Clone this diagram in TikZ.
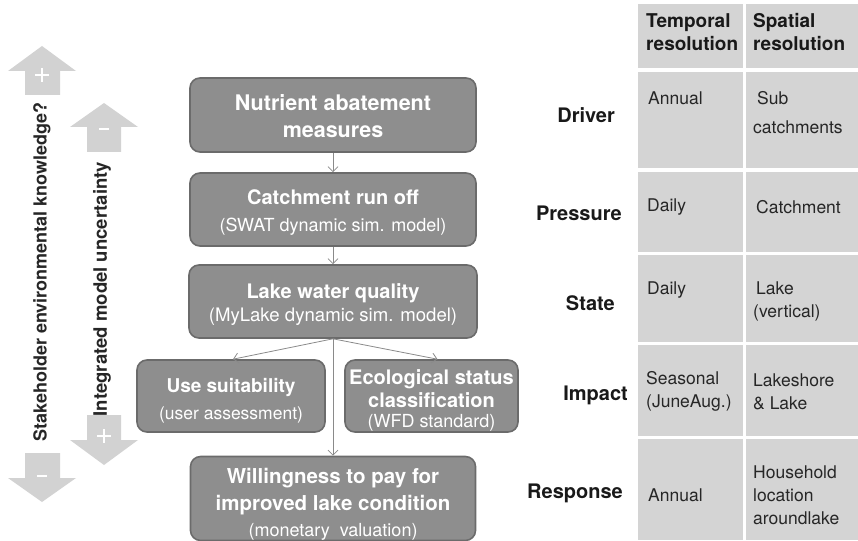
\documentclass[tikz,border=0pt]{standalone}
\usepackage{fontspec}
\setmainfont{TeX Gyre Heros}
\usetikzlibrary{arrows.meta,calc}
\definecolor{boxfill}{HTML}{8E8E8E}
\definecolor{boxline}{HTML}{6B6B6B}
\definecolor{connc}{HTML}{8A8A8A}
\definecolor{cellc}{HTML}{D4D4D4}
\definecolor{arrc}{HTML}{D2D2D2}
\definecolor{txt}{HTML}{262626}
\newcommand\myfs[2]{\fontsize{#1}{#2}\selectfont}
\newcommand\topstrut[1]{\rule{0pt}{#1pt}}
\begin{document}
\begin{tikzpicture}[x=1pt,y=-1pt,
  box/.style={draw=boxline, line width=1.6pt, fill=boxfill, rounded corners=10pt,
    text=white, align=center, inner sep=0pt},
  conn/.style={draw=connc, line width=0.8pt, -{Straight Barb[length=5pt,width=10pt]}},
  cell/.style={fill=cellc, draw=none},
  celltxt/.style={text=txt, font=\myfs{17.5}{23}, align=left, anchor=west, inner sep=0pt},
  dpsir/.style={text=black!90, font=\bfseries\myfs{20}{24}, anchor=east, inner sep=0pt},
  bigarrow/.style={fill=arrc, draw=none},
  sign/.style={draw=white, line width=2.2pt},
  sidetxt/.style={rotate=90, text=txt, inner sep=0pt}]
\useasboundingbox (0,0) rectangle (858,540);

% ---- table cells ----
\foreach \ya/\yb in {4/68, 72/168, 172/252, 255/342, 345/436, 439/540} {
  \fill[cellc] (638,\ya) rectangle (743,\yb);
  \fill[cellc] (746,\ya) rectangle (858,\yb);
}
\node[celltxt, font=\bfseries\myfs{19}{23}, text=black!90] (h1) at (646,32) {Temporal\\resolution};
\node[celltxt, font=\bfseries\myfs{19}{23}, text=black!90] (h2) at (753,32) {Spatial\\resolution};

\node[celltxt] (t1) at (648,98) {Annual};
\node[celltxt] (s1) at (753,113) {\hspace*{4pt}Sub\\[6pt]catchments};
\node[celltxt] (t2) at (647,207) {Daily};
\node[celltxt] (s2) at (756,207) {Catchment};
\node[celltxt] (t3) at (647,290) {Daily};
\node[celltxt] (s3) at (753,301.5) {\hspace*{3pt}Lake\\(vertical)};
\node[celltxt] (t4) at (646,391.5) {Seasonal\\(JuneAug.)};
\node[celltxt] (s4) at (753,391.5) {Lakeshore\\\& Lake};
\node[celltxt] (t5) at (648,495) {Annual};
\node[celltxt] (s5) at (753,495.5) {Household\\location\\aroundlake};

% ---- DPSIR labels ----
\node[dpsir] (d) at (615,115) {Driver};
\node[dpsir] (p) at (622,213) {Pressure};
\node[dpsir] (s) at (615,303) {State};
\node[dpsir] (i) at (628,395) {Impact};
\node[dpsir] (r) at (623,493) {Response};

% ---- boxes ----
\node[box, minimum width=286, minimum height=74, font=\bfseries\myfs{21.5}{27}] (nut) at (333,115)
  {\topstrut{19}Nutrient abatement\\measures};
\node[box, minimum width=286, minimum height=73, font=\myfs{18}{27}] (catch) at (333,209.5)
  {{\topstrut{21}\bfseries\myfs{20}{27}Catchment run off}\\(SWAT dynamic sim. model)};
\node[box, minimum width=288, minimum height=73, font=\myfs{18.6}{23}] (lake) at (333,301.5)
  {{\topstrut{21}\bfseries\myfs{20}{23}Lake water quality}\\(MyLake dynamic sim. model)};
\node[box, minimum width=188, minimum height=72, font=\myfs{17.5}{27}] (use) at (231,396)
  {{\topstrut{23}\bfseries\myfs{19}{27}Use suitability}\\(user assessment)};
\node[box, minimum width=173, minimum height=72, font=\myfs{18}{23}] (eco) at (431.5,396)
  {{\topstrut{23}\bfseries\myfs{20}{23}Ecological status}\\{\bfseries\myfs{20}{23}classification}\\[-3pt](WFD standard)};
\node[box, minimum width=285, minimum height=77, font=\myfs{18}{26.5}] (will) at (333,498.5)
  {{\topstrut{27}\bfseries\myfs{20.5}{26.5}Willingness to pay for}\\{\bfseries\myfs{20.5}{26.5}improved lake condition}\\(monetary\ \ valuation)};

% ---- connectors ----
\draw[conn] (nut) -- (catch);
\draw[conn] (catch) -- (lake);
\draw[conn] (lake.south) -- ([xshift=2pt]use.north);
\draw[conn] (lake.south) -- ([xshift=6pt]eco.north);
\draw[conn] (lake.south) -- (will.north);

% ---- side arrows ----
\fill[bigarrow] (42,46) -- (76,71) -- (60,71) -- (60,95) -- (25,95) -- (25,71) -- (8,71) -- cycle;
\draw[sign] (42,68) -- (42,82) (35,75) -- (49,75);
\fill[bigarrow] (104,103) -- (138,127) -- (121,127) -- (121,152) -- (87,152) -- (87,127) -- (70,127) -- cycle;
\draw[sign, line width=2.8pt] (99,129) -- (109,129);
\fill[bigarrow] (87,415) -- (121,415) -- (121,440) -- (138,440) -- (104,465) -- (70,440) -- (87,440) -- cycle;
\draw[sign] (104,429) -- (104,443) (97,436) -- (111,436);
\fill[bigarrow] (25,453) -- (60,453) -- (60,478) -- (76,478) -- (42,502) -- (8,478) -- (25,478) -- cycle;
\draw[sign, line width=2.8pt] (37,476) -- (47,476);

\node[sidetxt, font=\bfseries\myfs{18}{20}] (stake) at (42,272) {Stakeholder environmental knowledge?};
\node[sidetxt, font=\bfseries\myfs{18.5}{20}] (integ) at (102,289) {Integrated model uncertainty};
\end{tikzpicture}
\end{document}
